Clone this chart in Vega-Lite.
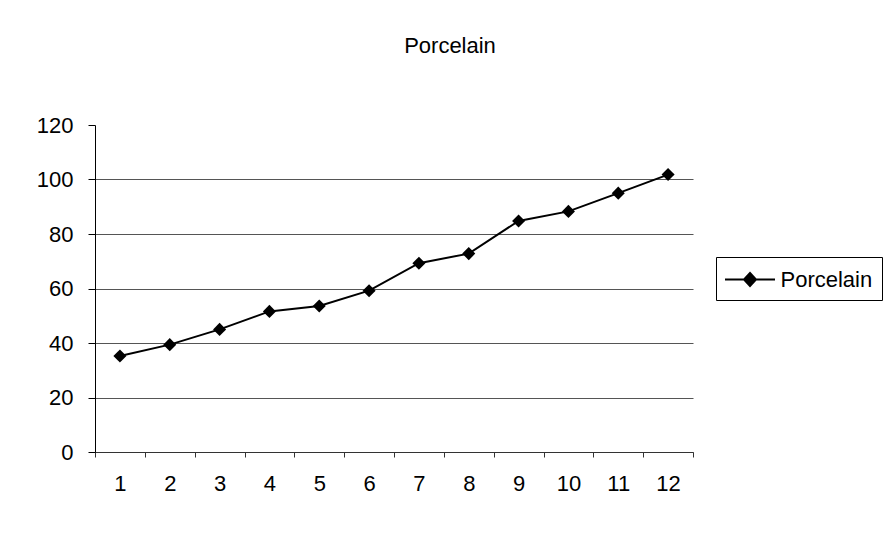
{
  "$schema": "https://vega.github.io/schema/vega-lite/v6.json",
  "width": 598,
  "height": 327,
  "autosize": {"type": "none"},
  "padding": {"left": 95, "top": 125, "right": 196, "bottom": 81},
  "background": "white",
  "title": {"text": "Porcelain", "fontSize": 22, "fontWeight": "normal", "font": "Liberation Sans", "color": "black", "anchor": "middle", "dx": 56, "offset": 56},
  "data": {"values": [
    {"period": 1, "value": 35.2, "series": "Porcelain"},
    {"period": 2, "value": 39.4, "series": "Porcelain"},
    {"period": 3, "value": 45.0, "series": "Porcelain"},
    {"period": 4, "value": 51.6, "series": "Porcelain"},
    {"period": 5, "value": 53.6, "series": "Porcelain"},
    {"period": 6, "value": 59.2, "series": "Porcelain"},
    {"period": 7, "value": 69.3, "series": "Porcelain"},
    {"period": 8, "value": 72.8, "series": "Porcelain"},
    {"period": 9, "value": 84.8, "series": "Porcelain"},
    {"period": 10, "value": 88.3, "series": "Porcelain"},
    {"period": 11, "value": 95.0, "series": "Porcelain"},
    {"period": 12, "value": 101.8, "series": "Porcelain"}
  ]},
  "mark": {"type": "line", "color": "black", "strokeWidth": 2, "point": {"shape": "diamond", "filled": true, "size": 170, "color": "black"}},
  "encoding": {
    "x": {"field": "period", "type": "ordinal", "sort": null,
      "scale": {"type": "band", "paddingInner": 0, "paddingOuter": 0},
      "axis": {"title": null, "labelAngle": 0, "tickBand": "extent", "grid": false, "domainColor": "#333", "tickColor": "#333", "tickSize": 5, "labelPadding": 16, "labelFontSize": 22, "labelColor": "black", "labelFont": "Liberation Sans"}},
    "y": {"field": "value", "type": "quantitative",
      "scale": {"domain": [0, 120], "nice": false},
      "axis": {"title": null, "values": [0, 20, 40, 60, 80, 100, 120], "grid": true, "gridColor": "#555",
        "gridOpacity": {"condition": {"test": "datum.value >= 120", "value": 0}, "value": 1},
        "domainColor": "black", "tickColor": "black", "tickSize": 7, "labelPadding": 15, "labelFontSize": 22, "labelColor": "black", "labelFont": "Liberation Sans"}},
    "color": {"field": "series", "type": "nominal", "scale": {"range": ["black"]},
      "legend": {"title": null, "orient": "none", "legendX": 621, "legendY": 132,
        "symbolType": "M-2,0H2M0,-0.52L0.48,0L0,0.52L-0.48,0Z", "symbolSize": 625, "symbolStrokeWidth": 2,
        "symbolOffset": 11.5,
        "symbolFillColor": "black", "symbolStrokeColor": "black",
        "labelFontSize": 22, "labelColor": "black", "labelFont": "Liberation Sans", "labelOffset": 17,
        "strokeColor": "black", "padding": 9}}
  },
  "config": {"view": {"stroke": null}, "font": "Liberation Sans"}
}
